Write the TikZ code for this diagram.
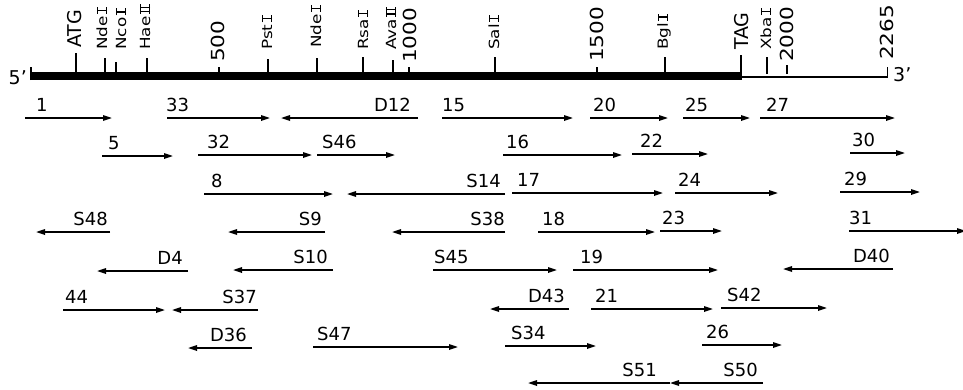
\documentclass[tikz,border=0pt]{standalone}
\usepackage{fontspec}
\setmainfont{DejaVu Sans}
\newfontfamily\widefont{DejaVu Sans}[FakeStretch=1.2]
\usetikzlibrary{arrows.meta}

% roman numerals with bars, as used in enzyme names
\newcommand\romI{\mbox{\rule{0.5em}{0.09em}\kern-0.295em\rule{0.09em}{0.72em}\kern-0.295em\rule[0.63em]{0.5em}{0.09em}}}
\newcommand\romII{\mbox{\rule{0.7em}{0.09em}\kern-0.55em\rule{0.09em}{0.72em}\kern0.22em\rule{0.09em}{0.72em}\kern-0.55em\rule[0.63em]{0.7em}{0.09em}}}

% fragment arrow pointing right: name, tail x, head x, y, label left x, label
\newcommand\fragR[6]{%
  \coordinate (#1-t) at (#2,#4);
  \coordinate (#1-h) at (#3,#4);
  \draw[frag] (#1-t) -- (#1-h);
  \node[flab, anchor=base west] (#1-l) at (#5,#4-7) {#6};
}
% fragment arrow pointing left: name, tail x, head x, y, label right x, label
\newcommand\fragL[6]{%
  \coordinate (#1-t) at (#2,#4);
  \coordinate (#1-h) at (#3,#4);
  \draw[frag] (#1-t) -- (#1-h);
  \node[flab, anchor=base east] (#1-l) at (#5,#4-7) {#6};
}
% mark on the map: name, x, tick top y, tick style, label x, label bottom y, label style, label
\newcommand\mapmark[8]{%
  \coordinate (#1-b) at (#2,74);
  \coordinate (#1-t) at (#2,#3);
  \draw[#4] (#1-b) -- (#1-t);
  \node[#7] (#1-l) at (#5,#6) {#8};
}

\tikzset{
  frag/.style={line width=1.6pt, -{Triangle[length=9pt,width=5.5pt]}},
  flab/.style={inner sep=0pt, font=\fontsize{18}{18}\selectfont},
  thin tick/.style={line width=1.3pt},
  pos tick/.style={line width=2.6pt},
  codon tick/.style={line width=2.8pt},
  sitelab/.style={inner sep=0pt, rotate=90, anchor=west, font=\widefont\fontsize{14}{14}\selectfont},
  poslab/.style={inner sep=0pt, rotate=90, anchor=west, font=\widefont\fontsize{18}{18}\selectfont},
  codonlab/.style={inner sep=0pt, rotate=90, anchor=west, font=\fontsize{19}{19}\selectfont},
  endlab/.style={inner sep=0pt, font=\fontsize{19}{19}\selectfont},
}

\begin{document}
\begin{tikzpicture}[x=1pt, y=-1pt]
\useasboundingbox (0,0) rectangle (963,389);

% ---- the map ----
\coordinate (bar-l) at (30,72);
\coordinate (bar-r) at (742,80);
\fill (bar-l) rectangle (bar-r);
\coordinate (tail-l) at (742,76.5);
\coordinate (tail-r) at (888,76.5);
\draw[line width=2pt] (tail-l) -- (tail-r);
\coordinate (e5-b) at (31,80);
\coordinate (e5-t) at (31,67);
\draw[thin tick] (e5-b) -- (e5-t);
\coordinate (e3-b) at (887.5,77.5);
\coordinate (e3-t) at (887.5,67);
\draw[line width=1.8pt] (e3-b) -- (e3-t);
\node[endlab, anchor=east] (p5) at (27,78) {5'};
\node[endlab, anchor=west] (p3) at (893,75) {3'};

\mapmark{atg}{76}{53}{codon tick}{75}{48}{codonlab}{ATG}
\mapmark{nde1}{105}{58}{thin tick}{102}{50}{sitelab}{Nde\,\romI}
\mapmark{nco}{116}{62}{thin tick}{121}{50}{sitelab}{Nco\,\romI}
\mapmark{hae}{147}{58}{thin tick}{145}{50}{sitelab}{Hae\,\romII}
\mapmark{n500}{219}{67}{pos tick}{218}{62}{poslab}{500}
\mapmark{pst}{268}{59}{thin tick}{267}{50}{sitelab}{Pst\,\romI}
\mapmark{nde2}{317}{58}{thin tick}{316}{48}{sitelab}{Nde\,\romI}
\mapmark{rsa}{363}{57}{thin tick}{363}{50}{sitelab}{Rsa\,\romI}
\mapmark{ava}{393}{60}{thin tick}{391}{50}{sitelab}{Ava\,\romII}
\mapmark{n1000}{409}{67}{pos tick}{410}{63}{poslab}{1000}
\mapmark{sal}{495}{57}{thin tick}{494}{50}{sitelab}{Sal\,\romI}
\mapmark{n1500}{597}{67}{pos tick}{597}{62}{poslab}{1500}
\mapmark{bgl}{665}{57}{thin tick}{664}{50}{sitelab}{Bgl\,\romI}
\mapmark{tag}{741}{55}{codon tick}{742}{50}{codonlab}{TAG}
\mapmark{xba}{767}{57}{thin tick}{766}{50}{sitelab}{Xba\,\romI}
\mapmark{n2000}{787}{65}{pos tick}{787}{62}{poslab}{2000}
\node[poslab] (n2265-l) at (887,60) {2265};

% ---- fragments ----
\fragR{f1}{25}{112}{118}{36}{1}
\fragR{f33}{167}{270}{118}{166}{33}
\fragL{fD12}{418}{281}{118}{411}{D12}
\fragR{f15}{442}{573}{118}{442}{15}
\fragR{f20}{590}{668}{118}{593}{20}
\fragR{f25}{683}{750}{118}{685}{25}
\fragR{f27}{760}{895}{118}{766}{27}

\fragR{f5}{102}{173}{156}{108}{5}
\fragR{f32}{198}{312}{155}{207}{32}
\fragR{fS46}{317}{395}{155}{322}{S46}
\fragR{f16}{503}{622}{155}{506}{16}
\fragR{f22}{632}{708}{154}{640}{22}
\fragR{f30}{850}{905}{153}{852}{30}

\fragR{f8}{204}{333}{194}{211}{8}
\fragL{fS14}{505}{347}{194}{501}{S14}
\fragR{f17}{512}{663}{193}{517}{17}
\fragR{f24}{675}{778}{193}{678}{24}
\fragR{f29}{840}{920}{192}{844}{29}

\fragL{fS48}{110}{36}{232}{108}{S48}
\fragL{fS9}{325}{228}{232}{322}{S9}
\fragL{fS38}{505}{392}{232}{505}{S38}
\fragR{f18}{538}{655}{232}{542}{18}
\fragR{f23}{660}{722}{231}{662}{23}
\fragR{f31}{849}{966}{231}{849}{31}

\fragL{fD4}{188}{97}{271}{183}{D4}
\fragL{fS10}{333}{233}{270}{328}{S10}
\fragR{fS45}{433}{557}{270}{434}{S45}
\fragR{f19}{573}{718}{270}{580}{19}
\fragL{fD40}{893}{783}{269}{890}{D40}

\fragR{f44}{63}{165}{310}{65}{44}
\fragL{fS37}{258}{172}{310}{257}{S37}
\fragL{fD43}{569}{490}{309}{565}{D43}
\fragR{f21}{591}{713}{309}{595}{21}
\fragR{fS42}{721}{827}{308}{727}{S42}

\fragL{fD36}{252}{188}{348}{247}{D36}
\fragR{fS47}{313}{458}{347}{317}{S47}
\fragR{fS34}{505}{596}{346}{511}{S34}
\fragR{f26}{702}{782}{345}{706}{26}

\fragL{fS51}{670}{528}{383}{657}{S51}
\fragL{fS50}{763}{670}{383}{758}{S50}
\end{tikzpicture}
\end{document}
